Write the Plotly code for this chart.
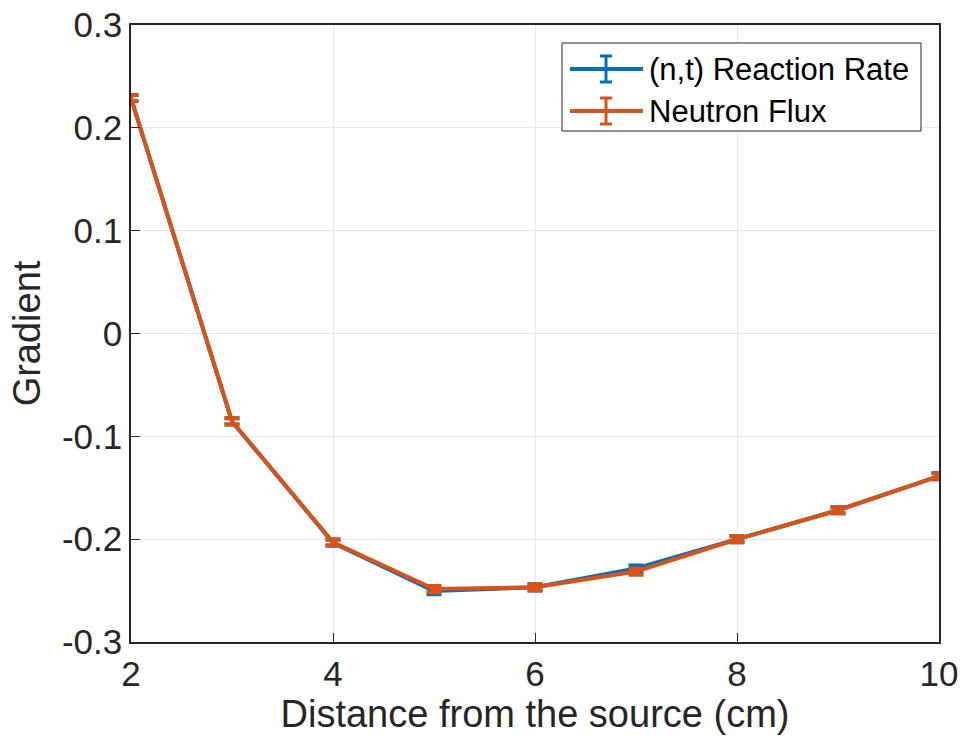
import plotly.graph_objects as go

distance = [2, 3, 4, 5, 6, 7, 8, 9, 10]
reaction_rate = [0.229, -0.0855, -0.2035, -0.2505, -0.2468, -0.2285, -0.2001, -0.1719, -0.1388]
neutron_flux = [0.229, -0.0855, -0.2030, -0.2485, -0.2468, -0.2315, -0.2001, -0.1719, -0.1388]
rr_err = [0.003] * 9
nf_err = [0.003] * 9

x_ticks = [2, 4, 6, 8, 10]
y_ticks = [-0.3, -0.2, -0.1, 0, 0.1, 0.2, 0.3]
y_ticktext = ["-0.3", "-0.2", "-0.1", "0", "0.1", "0.2", "0.3"]

names = ["(n,t) Reaction Rate", "Neutron Flux"]
colors = ["#0072BD", "#D95319"]

fig = go.Figure()
for y, e, c, n in [(reaction_rate, rr_err, colors[0], names[0]), (neutron_flux, nf_err, colors[1], names[1])]:
    fig.add_trace(go.Scatter(
        x=distance, y=y, mode="lines", name=n, showlegend=False,
        line=dict(color=c, width=4),
        error_y=dict(type="data", array=e, visible=True, color=c, thickness=4, width=7.5),
    ))

font = "Liberation Sans, Arial, Helvetica, sans-serif"
L, R, T, B = 131, 939, 25, 642
W, H = 962, 748
fig.update_layout(
    width=W, height=H,
    margin=dict(l=L, r=W - R, t=T, b=H - B, autoexpand=False),
    paper_bgcolor="white", plot_bgcolor="white",
    font=dict(family=font, size=35, color="#262626"),
    xaxis=dict(range=[2, 10], tickvals=x_ticks, ticks="inside", ticklen=9, tickwidth=1,
               tickcolor="#262626", showline=True, linecolor="#262626", linewidth=1.5, mirror=True,
               showgrid=True, gridcolor="#e8e8e8", gridwidth=1, zeroline=False,
               ticklabeloverflow="allow", automargin=False,
               title=dict(text="Distance from the source (cm)", font=dict(size=38), standoff=6),
               tickfont=dict(size=35)),
    yaxis=dict(range=[-0.3, 0.3], tickvals=y_ticks, ticktext=y_ticktext, ticks="inside", ticklen=9,
               tickwidth=1, tickcolor="#262626", showline=True, linecolor="#262626", linewidth=1.5,
               mirror=True, showgrid=True, gridcolor="#e8e8e8", gridwidth=1, zeroline=False,
               ticklabeloverflow="allow", automargin=False,
               title=dict(text="Gradient", font=dict(size=38), standoff=10),
               tickfont=dict(size=35)),
)

# Custom legend (MATLAB-style errorbar symbols); coordinates given in screen pixels
def px(x):
    return (x - L) / (R - L)

def py(y):
    return 1 - (y - T) / (B - T)

shapes = [dict(type="rect", xref="paper", yref="paper", x0=px(562), x1=px(921), y0=py(131), y1=py(43),
               line=dict(color="#262626", width=1), fillcolor="white", layer="above")]
annotations = []
for i, (n, c) in enumerate(zip(names, colors)):
    yc = 69 + i * 42
    shapes.append(dict(type="line", xref="paper", yref="paper", x0=px(570), x1=px(643), y0=py(yc), y1=py(yc),
                       line=dict(color=c, width=4), layer="above"))
    shapes.append(dict(type="line", xref="paper", yref="paper", x0=px(606), x1=px(606), y0=py(yc - 13), y1=py(yc + 13),
                       line=dict(color=c, width=3), layer="above"))
    for dy in (-13, 13):
        shapes.append(dict(type="line", xref="paper", yref="paper", x0=px(600), x1=px(612), y0=py(yc + dy), y1=py(yc + dy),
                           line=dict(color=c, width=3), layer="above"))
    annotations.append(dict(xref="paper", yref="paper", x=px(647), y=py(yc), text=n, showarrow=False,
                            xanchor="left", yanchor="middle", font=dict(size=31, color="black", family=font)))
fig.update_layout(shapes=shapes, annotations=annotations)

fig.write_html("out.html", config={"displayModeBar": False},
               post_script="document.body.style.margin='0';document.body.style.overflow='hidden';")
